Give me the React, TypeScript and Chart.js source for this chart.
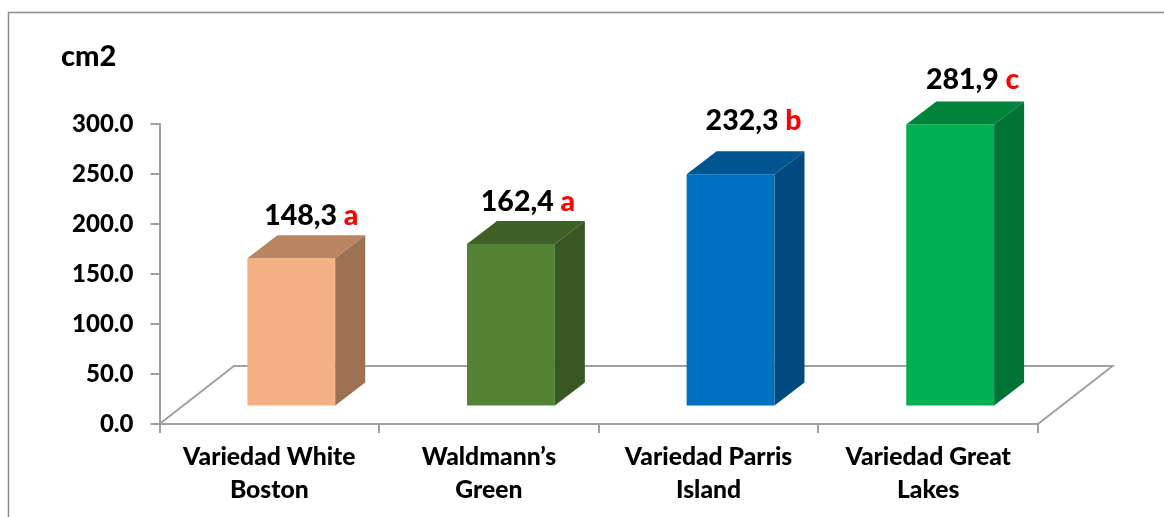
import React, { useEffect, useRef } from "react";
import { Chart, registerables } from "chart.js";

Chart.register(...registerables);

const categories = [
  ["Variedad White", "Boston"],
  ["Waldmann’s", "Green"],
  ["Variedad Parris", "Island"],
  ["Variedad Great", "Lakes"],
];
const areaValues = [148.3, 162.4, 232.3, 281.9];
const valueLabels = ["148,3", "162,4", "232,3", "281,9"];
const significance = ["a", "a", "b", "c"];
const unitLabel = "cm2";
const yMax = 300;
const yStep = 50;

const frontColors = ["#F4B183", "#548235", "#0070C0", "#00B050"];
const topColors = ["#B98562", "#3F6128", "#005490", "#00843C"];
const sideColors = ["#9C7252", "#385723", "#004A80", "#007434"];

const FONT = "Lato, Carlito, sans-serif";
const AXIS_GRAY = "#A0A0A0";
const FRAME_GRAY = "#8C8C8C";
const BAR_SHIFT = { x: 22, y: -17.5 };
const DEPTH = { x: 30, y: -23 };
const FLOOR = { x: 74.5, y: -58 };
const LABEL_NUDGE = [
  { x: 20, y: -33 },
  { x: 17, y: -33 },
  { x: 23, y: -44 },
  { x: 22.5, y: -36 },
];

const scene = {
  id: "scene3d",
  beforeDraw(chart: any) {
    const { ctx, chartArea: a } = chart;
    ctx.save();
    ctx.strokeStyle = FRAME_GRAY;
    ctx.lineWidth = 1.5;
    ctx.beginPath();
    ctx.moveTo(8.5, chart.height);
    ctx.lineTo(8.5, 12.5);
    ctx.lineTo(chart.width, 12.5);
    ctx.stroke();
    ctx.strokeStyle = AXIS_GRAY;
    ctx.lineWidth = 2;
    ctx.beginPath();
    ctx.moveTo(a.left, a.bottom);
    ctx.lineTo(a.left + FLOOR.x, a.bottom + FLOOR.y);
    ctx.lineTo(a.right + FLOOR.x, a.bottom + FLOOR.y);
    ctx.lineTo(a.right, a.bottom);
    ctx.stroke();
    ctx.fillStyle = "#000";
    ctx.font = `900 29px ${FONT}`;
    ctx.textAlign = "left";
    ctx.textBaseline = "alphabetic";
    ctx.fillText(unitLabel, 61, 66);
    ctx.restore();
  },
  beforeDatasetDraw(chart: any) {
    chart.ctx.save();
    chart.ctx.translate(BAR_SHIFT.x, BAR_SHIFT.y);
  },
  afterDatasetDraw(chart: any) {
    const { ctx } = chart;
    ctx.restore();
    const bars = chart.getDatasetMeta(0).data;
    const bottomShift = BAR_SHIFT.y;
    bars.forEach((bar: any, i: number) => {
      const l = bar.x - bar.width / 2 + BAR_SHIFT.x;
      const r = bar.x + bar.width / 2 + BAR_SHIFT.x;
      const t = bar.y + bottomShift;
      const b = bar.base + bottomShift;
      ctx.save();
      ctx.fillStyle = topColors[i];
      ctx.beginPath();
      ctx.moveTo(l, t);
      ctx.lineTo(l + DEPTH.x, t + DEPTH.y);
      ctx.lineTo(r + DEPTH.x, t + DEPTH.y);
      ctx.lineTo(r, t);
      ctx.closePath();
      ctx.fill();
      ctx.fillStyle = sideColors[i];
      ctx.beginPath();
      ctx.moveTo(r, t);
      ctx.lineTo(r + DEPTH.x, t + DEPTH.y);
      ctx.lineTo(r + DEPTH.x, b + DEPTH.y);
      ctx.lineTo(r, b);
      ctx.closePath();
      ctx.fill();

      const n = LABEL_NUDGE[i];
      ctx.font = `900 28.5px ${FONT}`;
      ctx.textBaseline = "alphabetic";
      ctx.textAlign = "left";
      const value = valueLabels[i] + " ";
      const vw = ctx.measureText(value).width;
      const sw = ctx.measureText(significance[i]).width;
      const x0 = (l + r) / 2 + n.x - (vw + sw) / 2;
      const y0 = t + n.y;
      ctx.fillStyle = "#000";
      ctx.fillText(value, x0, y0);
      ctx.fillStyle = "#FF0000";
      ctx.fillText(significance[i], x0 + vw, y0);
      ctx.restore();
    });
  },
};

export default function App() {
  const ref = useRef<HTMLCanvasElement>(null);
  useEffect(() => {
    const chart = new Chart(ref.current as HTMLCanvasElement, {
      type: "bar",
      data: {
        labels: categories as any,
        datasets: [
          {
            data: areaValues,
            backgroundColor: frontColors,
            borderWidth: 0,
            barPercentage: 0.4,
            categoryPercentage: 1,
          },
        ],
      },
      options: {
        animation: false,
        responsive: false,
        layout: { padding: { top: 124, right: 126, left: 0, bottom: 0 } },
        plugins: { legend: { display: false }, tooltip: { enabled: false } },
        scales: {
          x: {
            offset: true,
            afterFit(s: any) {
              s.height = 93;
            },
            border: { color: AXIS_GRAY, width: 2 },
            grid: {
              offset: true,
              drawOnChartArea: false,
              drawTicks: true,
              tickLength: 9,
              color: AXIS_GRAY,
              lineWidth: 2,
            },
            ticks: {
              color: "#000",
              padding: 8,
              maxRotation: 0,
              autoSkip: false,
              font: { family: FONT, weight: "900", size: 24.7, lineHeight: "33px" },
            },
          },
          y: {
            min: 0,
            max: yMax,
            afterFit(s: any) {
              s.width = 159.5;
            },
            border: { color: AXIS_GRAY, width: 2 },
            grid: {
              drawOnChartArea: false,
              drawTicks: true,
              tickLength: 9,
              color: AXIS_GRAY,
              lineWidth: 2,
            },
            ticks: {
              stepSize: yStep,
              color: "#000",
              padding: 17,
              font: { family: FONT, weight: "900", size: 24 },
              callback: (v: any) => Number(v).toFixed(1),
            },
          },
        },
      } as any,
      plugins: [scene],
    });
    return () => chart.destroy();
  }, []);
  return (
    <canvas
      ref={ref}
      width={1164}
      height={517}
      style={{ position: "fixed", left: 0, top: 0, display: "block" }}
    />
  );
}
